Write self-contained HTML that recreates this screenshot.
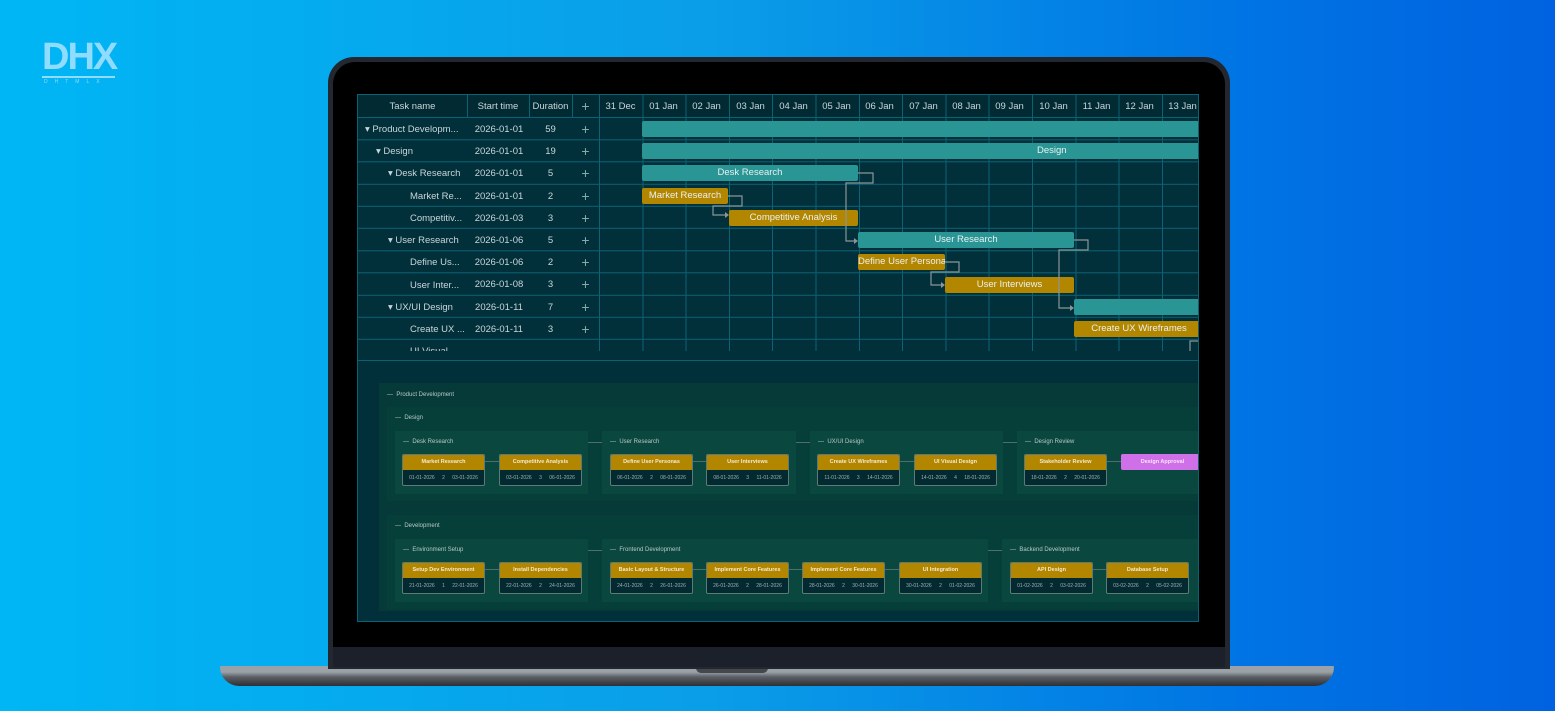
<!DOCTYPE html>
<html><head><meta charset="utf-8"><style>
*{box-sizing:border-box;margin:0;padding:0}
body{width:1555px;height:711px;overflow:hidden;position:relative;font-family:"Liberation Sans",sans-serif;background:linear-gradient(90deg,#00b6f5 0%,#0a9ee8 45%,#0074e4 80%,#0062e0 100%)}
.a{position:absolute}
.lid{left:328px;top:57px;width:902px;height:612px;background:#23272f;border-radius:26px 26px 0 0}
.scr{left:333px;top:62px;width:892px;height:586px;background:#000;border-radius:22px 22px 0 0}
.chin{left:333px;top:647px;width:892px;height:20px;background:#1b202a}
.base{left:220px;top:666px;width:1114px;height:20px;background:linear-gradient(180deg,#9aa2a8 0,#9aa2a8 30%,#5b6066 55%,#2c2f34 100%);border-radius:2px 2px 40px 40px}
.notch{left:696px;top:666px;width:72px;height:7px;background:#44484d;border-radius:0 0 5px 5px}
.app{left:357px;top:94px;width:842px;height:528px;background:#02303a;border:1px solid #0a6275;overflow:hidden}
.hd{color:#c8d6da;font-size:9.5px;text-align:center;line-height:23px;top:0;height:23px}
.tx{color:#c8d6da;font-size:9.5px;line-height:22px;white-space:nowrap}
.bar{height:16px;border-radius:2px;color:#e8f0f0;font-size:9.5px;text-align:center;line-height:16px;white-space:nowrap;overflow:hidden}
.t{background:#2a9595}.g{background:#b38600}
.pn{background:#063f3a}
.sp{background:#0a483f}
.lb{color:#b8c8c4;font-size:6px;white-space:nowrap}
.cd{width:83px;height:32px;border:1px solid #5d7a78;border-radius:2px;background:#032a30;overflow:hidden}
.cd .h{height:15px;background:#b38600;color:#f3ead0;font-size:5.5px;font-weight:bold;text-align:center;line-height:15px}
.cd .b{color:#9fb0b0;font-size:5px;text-align:center;line-height:16px;word-spacing:6px}
.ar{height:1px;background:#4f6d6a}
</style></head><body>
<div class="a" style="left:42px;top:38px;color:#8fdcff;font-size:38px;font-weight:bold;letter-spacing:-2px;line-height:38px">DHX</div>
<div class="a" style="left:42px;top:76px;width:73px;height:2px;background:#8fdcff"></div>
<div class="a" style="left:44px;top:79px;color:#8fdcff;font-size:5px;letter-spacing:7px">DHTMLX</div>
<div class="a base"></div><div class="a notch"></div>
<div class="a lid"></div><div class="a scr"></div><div class="a chin"></div>
<div class="a app">
<div class="a" style="left:0;top:0;width:842px;height:256px;background:repeating-linear-gradient(180deg,transparent 0,transparent 21.2px,#0a6275 21.2px,#0a6275 22.2px);background-position:0 0.8px"></div>
<div class="a" style="left:0;top:0;width:842px;height:23px;background:#022a33;border-bottom:1px solid #0a6275"></div>
<div class="a" style="left:241px;top:0;width:601px;height:256px;background:repeating-linear-gradient(90deg,#0a6275 0,#0a6275 1px,transparent 1px,transparent 43.3px);background-position:0 0"></div>
<div class="a" style="left:109px;top:0;width:1px;height:23px;background:#0a6275"></div>
<div class="a" style="left:171px;top:0;width:1px;height:23px;background:#0a6275"></div>
<div class="a" style="left:214px;top:0;width:1px;height:23px;background:#0a6275"></div>
<div class="a" style="left:0;top:265px;width:842px;height:1px;background:#0a6275"></div>
<div class="a hd" style="left:0;width:109px">Task name</div>
<div class="a hd" style="left:109px;width:62px">Start time</div>
<div class="a hd" style="left:171px;width:43px">Duration</div>
<div class="a hd" style="left:214px;width:27px;font-size:14px;color:#8aa">+</div>
<div class="a hd" style="left:241px;width:43px">31 Dec</div>
<div class="a hd" style="left:284px;width:43px">01 Jan</div>
<div class="a hd" style="left:327px;width:43px">02 Jan</div>
<div class="a hd" style="left:371px;width:43px">03 Jan</div>
<div class="a hd" style="left:414px;width:43px">04 Jan</div>
<div class="a hd" style="left:457px;width:43px">05 Jan</div>
<div class="a hd" style="left:500px;width:43px">06 Jan</div>
<div class="a hd" style="left:544px;width:43px">07 Jan</div>
<div class="a hd" style="left:587px;width:43px">08 Jan</div>
<div class="a hd" style="left:630px;width:43px">09 Jan</div>
<div class="a hd" style="left:674px;width:43px">10 Jan</div>
<div class="a hd" style="left:717px;width:43px">11 Jan</div>
<div class="a hd" style="left:760px;width:43px">12 Jan</div>
<div class="a hd" style="left:803px;width:43px">13 Jan</div>
<div class="a tx" style="left:7px;top:24px">▾ Product Developm...</div>
<div class="a tx" style="left:18px;top:46px">▾ Design</div>
<div class="a tx" style="left:30px;top:68px">▾ Desk Research</div>
<div class="a tx" style="left:52px;top:91px">Market Re...</div>
<div class="a tx" style="left:52px;top:113px">Competitiv...</div>
<div class="a tx" style="left:30px;top:135px">▾ User Research</div>
<div class="a tx" style="left:52px;top:157px">Define Us...</div>
<div class="a tx" style="left:52px;top:180px">User Inter...</div>
<div class="a tx" style="left:30px;top:202px">▾ UX/UI Design</div>
<div class="a tx" style="left:52px;top:224px">Create UX ...</div>
<div class="a tx" style="left:52px;top:246px;height:10px;overflow:hidden">UI Visual...</div>
<div class="a" style="left:110px;top:24px;width:62px">
<div class="tx" style="text-align:center">2026-01-01</div><div class="tx" style="text-align:center;margin-top:0.2px">2026-01-01</div><div class="tx" style="text-align:center;margin-top:0.2px">2026-01-01</div><div class="tx" style="text-align:center;margin-top:0.2px">2026-01-01</div><div class="tx" style="text-align:center;margin-top:0.2px">2026-01-03</div><div class="tx" style="text-align:center;margin-top:0.2px">2026-01-06</div><div class="tx" style="text-align:center;margin-top:0.2px">2026-01-06</div><div class="tx" style="text-align:center;margin-top:0.2px">2026-01-08</div><div class="tx" style="text-align:center;margin-top:0.2px">2026-01-11</div><div class="tx" style="text-align:center;margin-top:0.2px">2026-01-11</div></div>
<div class="a" style="left:171px;top:24px;width:43px">
<div class="tx" style="text-align:center">59</div><div class="tx" style="text-align:center;margin-top:0.2px">19</div><div class="tx" style="text-align:center;margin-top:0.2px">5</div><div class="tx" style="text-align:center;margin-top:0.2px">2</div><div class="tx" style="text-align:center;margin-top:0.2px">3</div><div class="tx" style="text-align:center;margin-top:0.2px">5</div><div class="tx" style="text-align:center;margin-top:0.2px">2</div><div class="tx" style="text-align:center;margin-top:0.2px">3</div><div class="tx" style="text-align:center;margin-top:0.2px">7</div><div class="tx" style="text-align:center;margin-top:0.2px">3</div></div>
<div class="a" style="left:214px;top:23px;width:27px;color:#8aa;font-size:14px;text-align:center;line-height:22.2px">+<br>+<br>+<br>+<br>+<br>+<br>+<br>+<br>+<br>+</div>
<div class="a bar t" style="left:284px;top:26px;width:560px"></div>
<div class="a bar t" style="left:284px;top:48px;width:560px;text-align:left;padding-left:395px">Design</div>
<div class="a bar t" style="left:284px;top:70px;width:216px">Desk Research</div>
<div class="a bar g" style="left:284px;top:93px;width:86px">Market Research</div>
<div class="a bar g" style="left:371px;top:115px;width:129px">Competitive Analysis</div>
<div class="a bar t" style="left:500px;top:137px;width:216px">User Research</div>
<div class="a bar g" style="left:500px;top:159px;width:87px">Define User Personas</div>
<div class="a bar g" style="left:587px;top:182px;width:129px">User Interviews</div>
<div class="a bar t" style="left:716px;top:204px;width:130px"></div>
<div class="a bar g" style="left:716px;top:226px;width:130px">Create UX Wireframes</div>
<svg class="a" style="left:0;top:0" width="842" height="266"><g fill="none" stroke="#8a9599" stroke-width="1.2">
<path d="M370 101 H384 V111 H355 V120 H368"/><path d="M500 78 H515 V88 H488 V146 H498"/><path d="M587 167 H601 V177 H573 V190 H585"/><path d="M716 145 H730 V155 H701 V213 H714"/><path d="M846 246 H832 V256"/></g>
<g fill="#8a9599"><path d="M371 120 l-4 -3 v6z"/><path d="M500 146 l-4 -3 v6z"/><path d="M587 190 l-4 -3 v6z"/><path d="M716 213 l-4 -3 v6z"/></g></svg>
<div class="a pn" style="left:21px;top:288px;width:830px;height:228px;background:#053a39"></div>
<div class="a lb" style="left:29px;top:297px">—&nbsp; Product Development</div>
<div class="a pn" style="left:29px;top:312px;width:820px;height:94px"></div>
<div class="a lb" style="left:37px;top:320px">—&nbsp; Design</div>
<div class="a pn" style="left:29px;top:420px;width:820px;height:94px"></div>
<div class="a lb" style="left:37px;top:428px">—&nbsp; Development</div>
<div class="a sp" style="left:37px;top:336px;width:193px;height:63px"></div>
<div class="a sp" style="left:244px;top:336px;width:194px;height:63px"></div>
<div class="a sp" style="left:452px;top:336px;width:193px;height:63px"></div>
<div class="a sp" style="left:659px;top:336px;width:190px;height:63px"></div>
<div class="a sp" style="left:37px;top:444px;width:193px;height:63px"></div>
<div class="a sp" style="left:244px;top:444px;width:386px;height:63px"></div>
<div class="a sp" style="left:644px;top:444px;width:205px;height:63px"></div>
<div class="a lb" style="left:45px;top:344px">—&nbsp; Desk Research</div>
<div class="a lb" style="left:252px;top:344px">—&nbsp; User Research</div>
<div class="a lb" style="left:460px;top:344px">—&nbsp; UX/UI Design</div>
<div class="a lb" style="left:667px;top:344px">—&nbsp; Design Review</div>
<div class="a lb" style="left:45px;top:452px">—&nbsp; Environment Setup</div>
<div class="a lb" style="left:252px;top:452px">—&nbsp; Frontend Development</div>
<div class="a lb" style="left:652px;top:452px">—&nbsp; Backend Development</div>
<div class="a ar" style="left:230px;top:347px;width:14px"></div>
<div class="a ar" style="left:438px;top:347px;width:14px"></div>
<div class="a ar" style="left:645px;top:347px;width:14px"></div>
<div class="a ar" style="left:230px;top:455px;width:14px"></div>
<div class="a ar" style="left:630px;top:455px;width:14px"></div>
<div class="a ar" style="left:126px;top:366px;width:15px"></div><div class="a ar" style="left:334px;top:366px;width:15px"></div><div class="a ar" style="left:541px;top:366px;width:15px"></div><div class="a ar" style="left:749px;top:366px;width:15px"></div>
<div class="a ar" style="left:126px;top:474px;width:15px"></div><div class="a ar" style="left:334px;top:474px;width:15px"></div><div class="a ar" style="left:430px;top:474px;width:15px"></div><div class="a ar" style="left:526px;top:474px;width:15px"></div><div class="a ar" style="left:734px;top:474px;width:15px"></div>
<div class="a cd" style="left:44px;top:359px"><div class="h">Market Research</div><div class="b">01-01-2026 2 03-01-2026</div></div>
<div class="a cd" style="left:141px;top:359px"><div class="h">Competitive Analysis</div><div class="b">03-01-2026 3 06-01-2026</div></div>
<div class="a cd" style="left:252px;top:359px"><div class="h">Define User Personas</div><div class="b">06-01-2026 2 08-01-2026</div></div>
<div class="a cd" style="left:348px;top:359px"><div class="h">User Interviews</div><div class="b">08-01-2026 3 11-01-2026</div></div>
<div class="a cd" style="left:459px;top:359px"><div class="h">Create UX Wireframes</div><div class="b">11-01-2026 3 14-01-2026</div></div>
<div class="a cd" style="left:556px;top:359px"><div class="h">UI Visual Design</div><div class="b">14-01-2026 4 18-01-2026</div></div>
<div class="a cd" style="left:666px;top:359px"><div class="h">Stakeholder Review</div><div class="b">18-01-2026 2 20-01-2026</div></div>
<div class="a" style="left:763px;top:359px;width:83px;height:16px;background:#d070e8;border-radius:2px;color:#f6e6fb;font-size:5.5px;font-weight:bold;text-align:center;line-height:16px">Design Approval</div>
<div class="a cd" style="left:44px;top:467px"><div class="h">Setup Dev Environment</div><div class="b">21-01-2026 1 22-01-2026</div></div>
<div class="a cd" style="left:141px;top:467px"><div class="h">Install Dependencies</div><div class="b">22-01-2026 2 24-01-2026</div></div>
<div class="a cd" style="left:252px;top:467px"><div class="h">Basic Layout &amp; Structure</div><div class="b">24-01-2026 2 26-01-2026</div></div>
<div class="a cd" style="left:348px;top:467px"><div class="h">Implement Core Features</div><div class="b">26-01-2026 2 28-01-2026</div></div>
<div class="a cd" style="left:444px;top:467px"><div class="h">Implement Core Features</div><div class="b">28-01-2026 2 30-01-2026</div></div>
<div class="a cd" style="left:541px;top:467px"><div class="h">UI Integration</div><div class="b">30-01-2026 2 01-02-2026</div></div>
<div class="a cd" style="left:652px;top:467px"><div class="h">API Design</div><div class="b">01-02-2026 2 03-02-2026</div></div>
<div class="a cd" style="left:748px;top:467px"><div class="h">Database Setup</div><div class="b">03-02-2026 2 05-02-2026</div></div>
</div>
</body></html>
